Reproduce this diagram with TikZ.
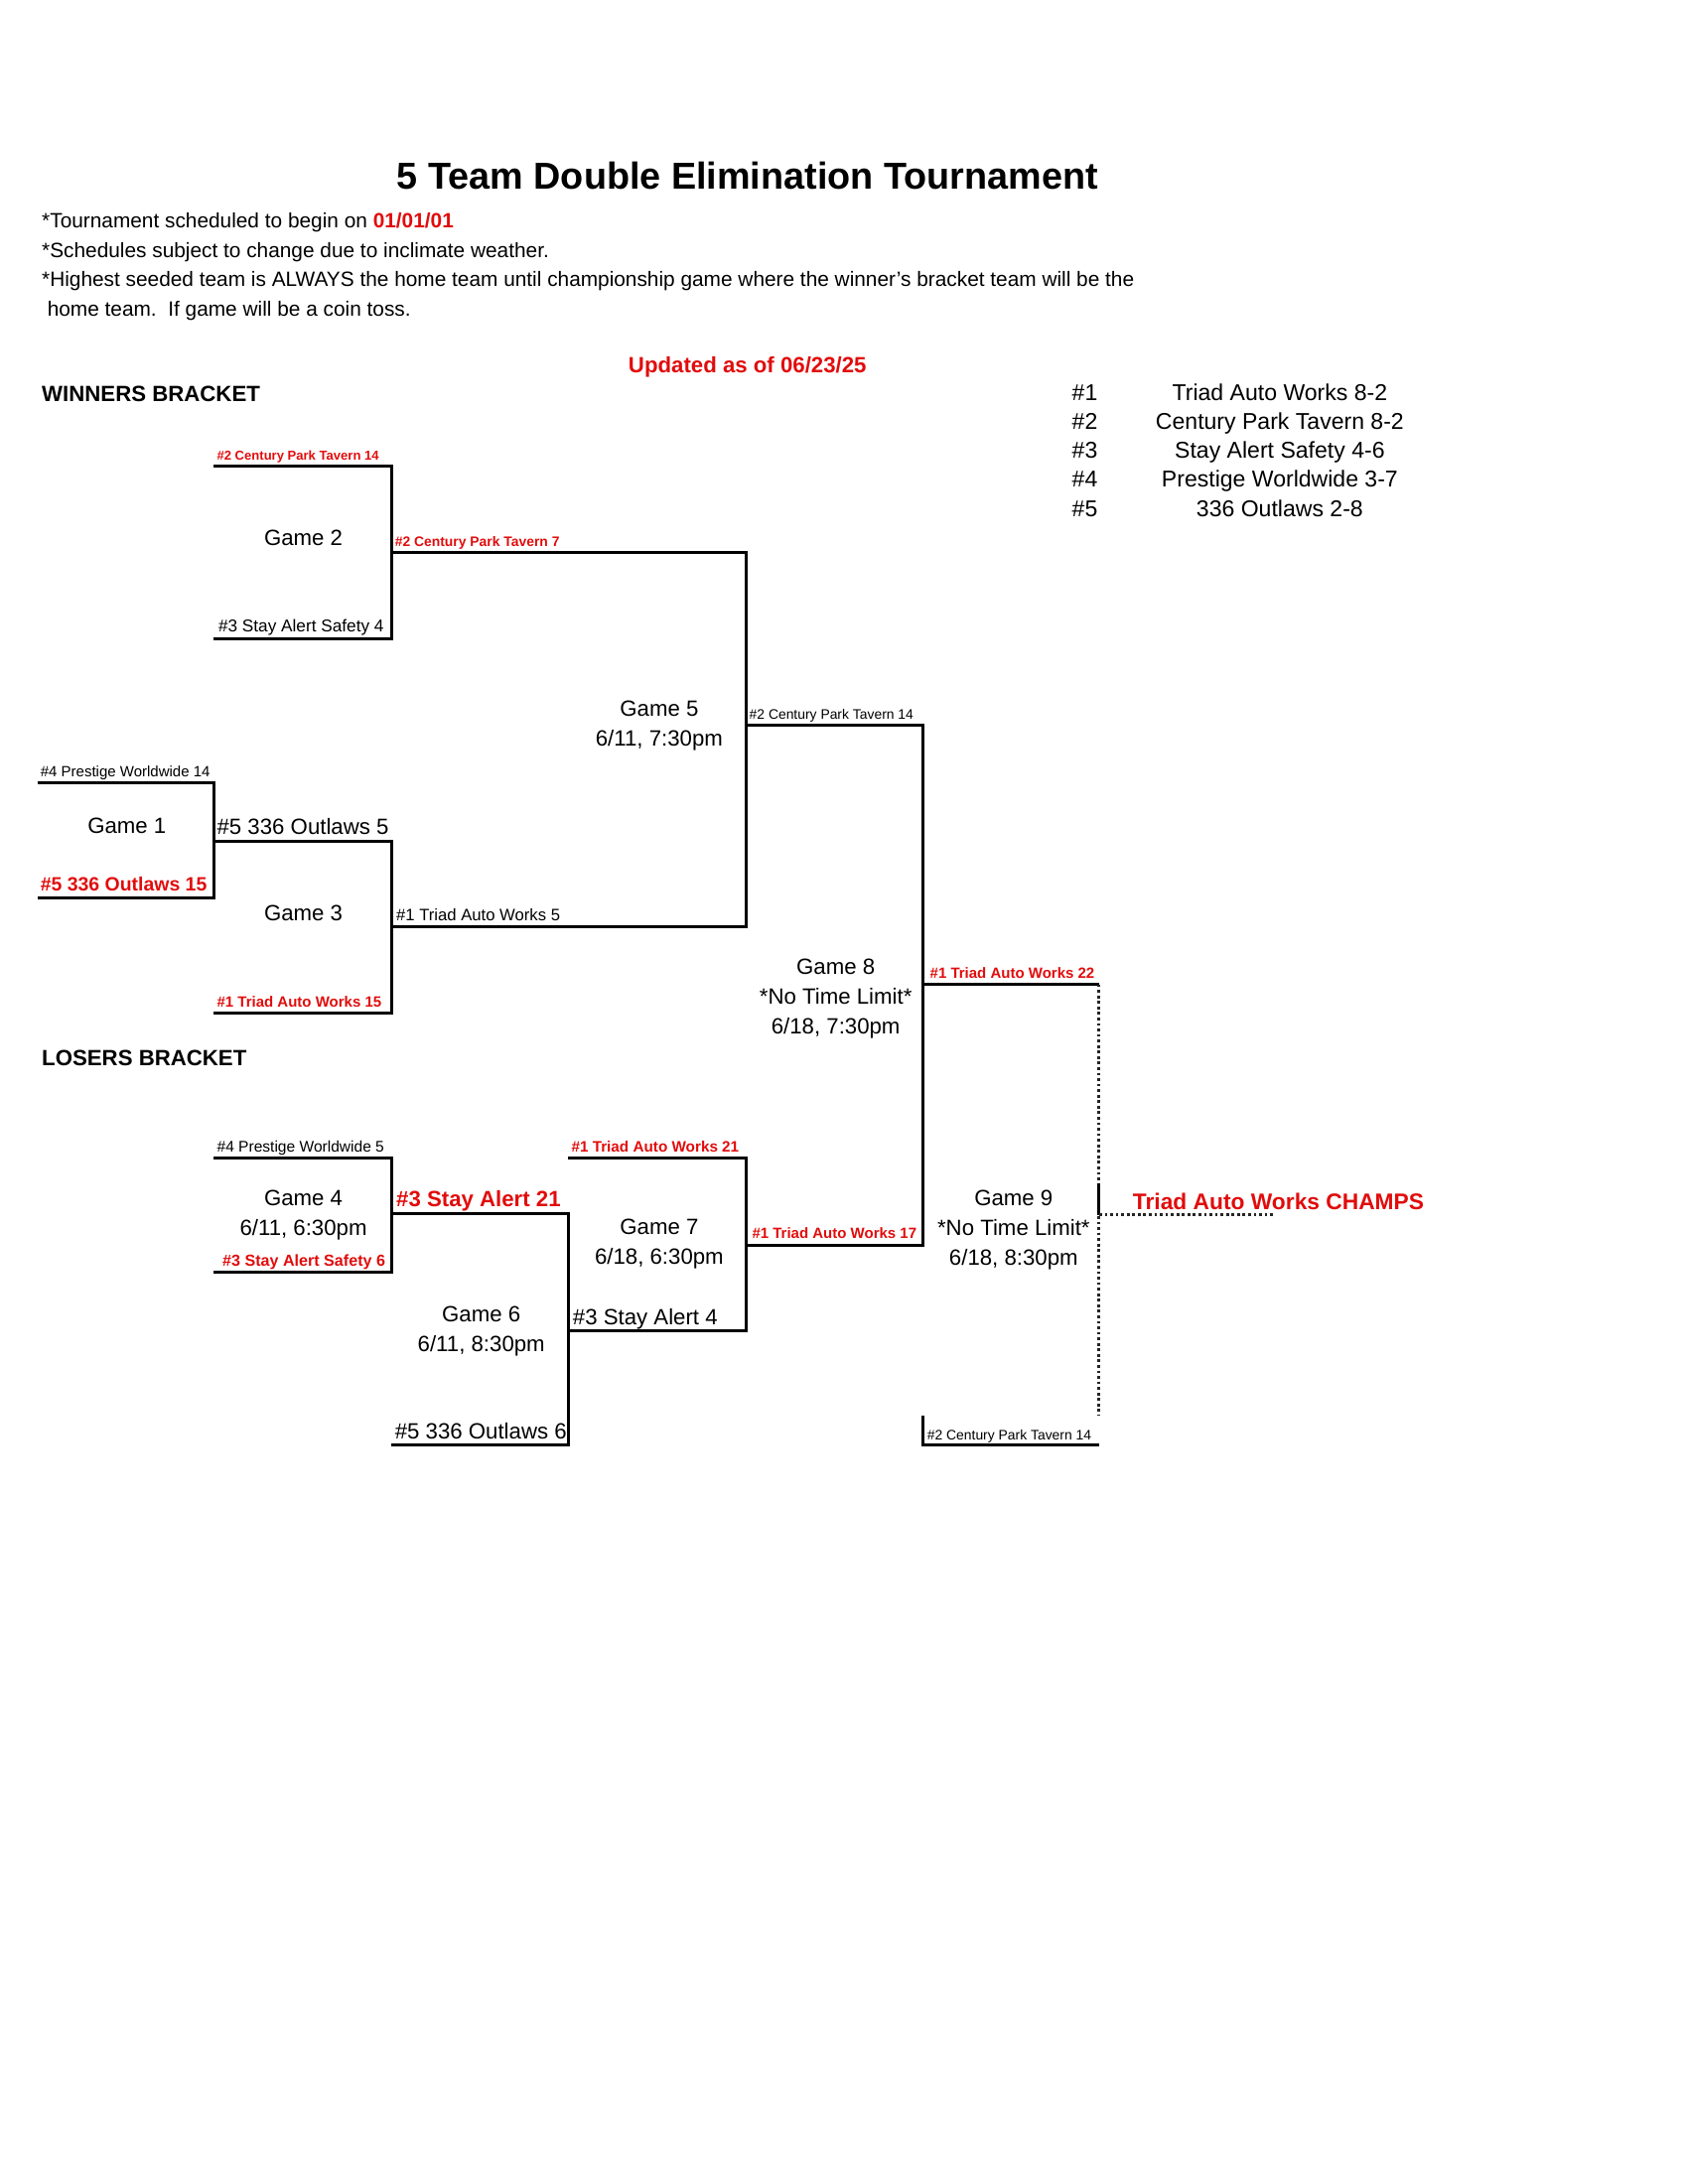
\documentclass[tikz,border=0pt]{standalone}
\usepackage{fontspec}
\setmainfont{Liberation Sans}
\definecolor{rd}{RGB}{225,12,12}
\newcommand{\myfs}[1]{\fontsize{#1}{#1}\selectfont}
\begin{document}
\begin{tikzpicture}[x=0.5pt,y=-0.5pt,
  lbl/.style={inner sep=0pt, anchor=base west},
  note/.style={lbl, font=\myfs{7.5}},
  game/.style={inner sep=0pt, align=center, font=\fontsize{8}{10.8}\selectfont},
  seed/.style={inner sep=0pt, anchor=base, font=\myfs{8.3}},
  bline/.style={line width=1.1pt, line join=miter},
  dline/.style={line width=1.1pt, dash pattern=on 1pt off 1pt, black!85},
  redb/.style={text=rd, font=\bfseries}]
\useasboundingbox (0,0) rectangle (1224,1584);

% ---------- header ----------
\node[inner sep=0pt, anchor=base, font=\myfs{13.6}\bfseries] (title) at (542,137) {5 Team Double Elimination Tournament};
\node[note] (n1) at (30,165) {*Tournament scheduled to begin on \textcolor{rd}{\bfseries 01/01/01}};
\node[note] (n2) at (30,187) {*Schedules subject to change due to inclimate weather.};
\node[note] (n3) at (30,208) {*Highest seeded team is ALWAYS the home team until championship game where the winner's bracket team will be the};
\node[note] (n4) at (34,229) {home team.\ \ If game will be a coin toss.};
\node[inner sep=0pt, anchor=base, font=\myfs{8}\bfseries, text=rd] (upd) at (542,270) {Updated as of 06/23/25};
\node[lbl, font=\myfs{8}\bfseries] (wb) at (30,291) {WINNERS BRACKET};
\node[lbl, font=\myfs{8}\bfseries] (lb) at (30,773) {LOSERS BRACKET};

% ---------- seeds ----------
\node[lbl, font=\myfs{8.3}] (s1) at (777,290.5) {\#1};
\node[lbl, font=\myfs{8.3}] (s2) at (777,311.5) {\#2};
\node[lbl, font=\myfs{8.3}] (s3) at (777,332.5) {\#3};
\node[lbl, font=\myfs{8.3}] (s4) at (777,353.5) {\#4};
\node[lbl, font=\myfs{8.3}] (s5) at (777,374.5) {\#5};
\node[seed] (t1) at (928,290.5) {Triad Auto Works 8-2};
\node[seed] (t2) at (928,311.5) {Century Park Tavern 8-2};
\node[seed] (t3) at (928,332.5) {Stay Alert Safety 4-6};
\node[seed] (t4) at (928,353.5) {Prestige Worldwide 3-7};
\node[seed] (t5) at (928,374.5) {336 Outlaws 2-8};

% ---------- coordinates ----------
\coordinate (g2tl) at (155,338); \coordinate (g2tr) at (284,338);
\coordinate (g2br) at (284,463); \coordinate (g2bl) at (155,463);
\coordinate (g2o) at (284,401);  \coordinate (g5t) at (541,401);
\coordinate (g1tl) at (27,568);  \coordinate (g1tr) at (155,568);
\coordinate (g1br) at (155,651); \coordinate (g1bl) at (27,651);
\coordinate (g1o) at (155,610);  \coordinate (g3t) at (284,610);
\coordinate (g3b) at (284,735);  \coordinate (g3bl) at (155,735);
\coordinate (g3o) at (284,672);  \coordinate (g5b) at (541,672);
\coordinate (g5o) at (541,526);  \coordinate (g8t) at (669,526);
\coordinate (g4tl) at (155,840); \coordinate (g4tr) at (284,840);
\coordinate (g4br) at (284,923); \coordinate (g4bl) at (155,923);
\coordinate (g4o) at (284,880);  \coordinate (g6t) at (412,880);
\coordinate (g6b) at (412,1048); \coordinate (g6bl) at (284,1048);
\coordinate (g6o) at (412,965);  \coordinate (g7b) at (541,965);
\coordinate (g7tl) at (412,840); \coordinate (g7t) at (541,840);
\coordinate (g7o) at (541,903);  \coordinate (g8b) at (669,903);
\coordinate (g8o) at (669,714);  \coordinate (g9t) at (797,714);
\coordinate (g9bt) at (669,1027); \coordinate (g9bl) at (669,1048); \coordinate (g9br) at (797,1048);
\coordinate (g9d) at (797,1027);
\coordinate (g9s1) at (797,858); \coordinate (g9m) at (797,881);
\coordinate (champ) at (924,881);

% ---------- bracket lines ----------
\draw[bline] (g2tl) -- (g2tr) -- (g2br) -- (g2bl);
\draw[bline] (g2o) -- (g5t) -- (g5b) -- (g3o);
\draw[bline] (g1tl) -- (g1tr) -- (g1br) -- (g1bl);
\draw[bline] (g1o) -- (g3t) -- (g3b) -- (g3bl);
\draw[bline] (g5o) -- (g8t) -- (g8b) -- (g7o);
\draw[bline] (g4tl) -- (g4tr) -- (g4br) -- (g4bl);
\draw[bline] (g4o) -- (g6t) -- (g6b) -- (g6bl);
\draw[bline] (g6o) -- (g7b) -- (g7t) -- (g7tl);
\draw[bline] (g8o) -- (g9t);
\draw[bline] (g9bt) -- (g9bl) -- (g9br);
\draw[dline] (g9t) -- (g9d);
\draw[bline] (g9s1) -- (g9m);
\draw[dline] (g9m) -- (champ);

% ---------- game labels ----------
\node[game] (G2) at (220,390) {Game 2};
\node[game] (G1) at (92,599) {Game 1};
\node[game] (G3) at (220,662) {Game 3};
\node[game] (G5) at (478,526) {Game 5\\6/11, 7:30pm};
\node[game] (G8) at (606,724.5) {Game 8\\*No Time Limit*\\6/18, 7:30pm};
\node[game] (G4) at (220,881.5) {Game 4\\6/11, 6:30pm};
\node[game] (G6) at (349,965.5) {Game 6\\6/11, 8:30pm};
\node[game] (G7) at (478,902.5) {Game 7\\6/18, 6:30pm};
\node[game] (G9) at (735,892) {Game 9\\*No Time Limit*\\6/18, 8:30pm};

% ---------- team labels on lines ----------
\node[lbl, redb, font=\myfs{4.7}\bfseries] (a1) at (157,333.5) {\#2 Century Park Tavern 14};
\node[lbl, font=\myfs{6.2}] (a2) at (158,458.5) {\#3 Stay Alert Safety 4};
\node[lbl, redb, font=\myfs{5}\bfseries] (a3) at (286,396.5) {\#2 Century Park Tavern 7};
\node[lbl, font=\myfs{5.4}] (a4) at (29,563.5) {\#4 Prestige Worldwide 14};
\node[lbl, redb, font=\myfs{7}\bfseries] (a5) at (29,646.5) {\#5 336 Outlaws 15};
\node[lbl, font=\myfs{8}] (a6) at (157,605.5) {\#5 336 Outlaws 5};
\node[lbl, redb, font=\myfs{5.4}\bfseries] (a7) at (157,730.5) {\#1 Triad Auto Works 15};
\node[lbl, font=\myfs{6}] (a8) at (287,667.5) {\#1 Triad Auto Works 5};
\node[lbl, font=\myfs{5}] (a9) at (543,521.5) {\#2 Century Park Tavern 14};
\node[lbl, redb, font=\myfs{5.4}\bfseries] (a10) at (674,709.5) {\#1 Triad Auto Works 22};
\node[lbl, font=\myfs{5.6}] (a11) at (157,835.5) {\#4 Prestige Worldwide 5};
\node[lbl, redb, font=\myfs{5.8}\bfseries] (a12) at (161,918.5) {\#3 Stay Alert Safety 6};
\node[lbl, redb, font=\myfs{8}\bfseries] (a13) at (287,875.5) {\#3 Stay Alert 21};
\node[lbl, font=\myfs{8}] (a14) at (286,1043.5) {\#5 336 Outlaws 6};
\node[lbl, font=\myfs{8}] (a15) at (415,960.5) {\#3 Stay Alert 4};
\node[lbl, redb, font=\myfs{5.5}\bfseries] (a16) at (414,835.5) {\#1 Triad Auto Works 21};
\node[lbl, redb, font=\myfs{5.4}\bfseries] (a17) at (545,898.5) {\#1 Triad Auto Works 17};
\node[lbl, font=\myfs{5}] (a18) at (672,1044.5) {\#2 Century Park Tavern 14};
\node[inner sep=0pt, anchor=base, text=rd, font=\myfs{8.2}\bfseries] (champs) at (927,877) {Triad Auto Works CHAMPS};
\end{tikzpicture}
\end{document}
